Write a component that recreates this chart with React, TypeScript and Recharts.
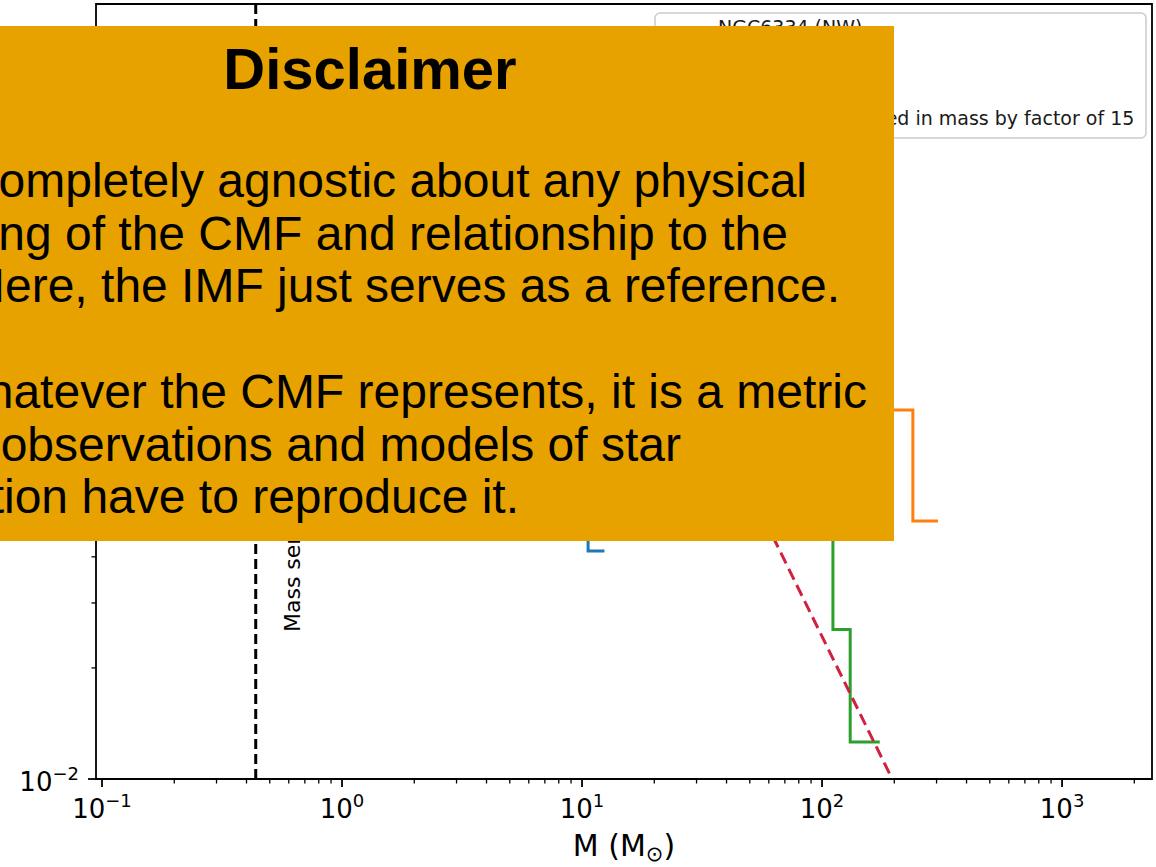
import React from "react";
import { ComposedChart, Line, XAxis, YAxis, ReferenceLine, ReferenceArea } from "recharts";

// axis limits (log-log)
const X_MIN = 0.0944;
const X_MAX = 2370;
const Y_MIN = 0.01;
const Y_MAX = 1.26;

const xMajorTicks = [0.1, 1, 10, 100, 1000];
const xMajorExp = ["−1", "0", "1", "2", "3"];
const xMinorTicks = [
  0.2, 0.3, 0.4, 0.5, 0.6, 0.7, 0.8, 0.9,
  2, 3, 4, 5, 6, 7, 8, 9,
  20, 30, 40, 50, 60, 70, 80, 90,
  200, 300, 400, 500, 600, 700, 800, 900,
  2000,
];
const yMajorTicks = [0.01, 0.1, 1];
const yMajorExp = ["−2", "−1", "0"];
const yMinorTicks = [0.02, 0.03, 0.04, 0.05, 0.06, 0.07, 0.08, 0.09, 0.2, 0.3, 0.4, 0.5, 0.6, 0.7, 0.8, 0.9];

// step CMFs (bin start mass, normalised count); upper parts sit behind the box, estimated
const ngc6334 = [
  { m: 1.25, v: 0.95 },
  { m: 1.8, v: 0.62 },
  { m: 2.6, v: 0.4 },
  { m: 3.8, v: 0.25 },
  { m: 5.5, v: 0.14 },
  { m: 7.8, v: 0.075 },
  { m: 10.6, v: 0.0415 },
  { m: 12.4, v: 0.0415 },
];
const w43mm1 = [
  { m: 14, v: 1.0 },
  { m: 22, v: 0.7 },
  { m: 35, v: 0.45 },
  { m: 55, v: 0.3 },
  { m: 85, v: 0.2 },
  { m: 140, v: 0.1 },
  { m: 239, v: 0.05 },
  { m: 304, v: 0.05 },
];
const w43mm2 = [
  { m: 9, v: 1.05 },
  { m: 15, v: 0.7 },
  { m: 24, v: 0.45 },
  { m: 38, v: 0.28 },
  { m: 58, v: 0.16 },
  { m: 85, v: 0.075 },
  { m: 111, v: 0.0254 },
  { m: 131, v: 0.0126 },
  { m: 174, v: 0.0126 },
];
const imf = [
  { m: 10, v: 0.51 },
  { m: 196, v: 0.01 },
];
const MASS_LIMIT = 0.437;

const legendLabels = ["NGC6334 (NW)", "W43-MM1", "W43-MM2", "Chabrier IMF shifted in mass by factor of 15"];
const legendColors = ["#1f77b4", "#ff7f0e", "#2ca02c", "#d0213f"];

const title = "Disclaimer";
const bodyLines = [
  "completely agnostic about any physical",
  "meaning of the CMF and relationship to the",
  "Here, the IMF just serves as a reference.",
  "",
  "Whatever the CMF represents, it is a metric",
  "that observations and models of star",
  "formation have to reproduce it.",
];
const bodyLineEnds = [807, 788, 840, 0, 867, 681, 519];

const FONT = "DejaVu Sans, sans-serif";
const SLIDE_FONT = "Liberation Sans, Arial, sans-serif";

function XTick(props: any) {
  const { x, y, payload } = props;
  const idx = xMajorTicks.indexOf(payload.value);
  const major = idx >= 0;
  return (
    <g>
      <line x1={x} x2={x} y1={y} y2={y + (major ? 8 : 4.5)} stroke="#000" strokeWidth={major ? 1.8 : 1.3} />
      {major && (
        <text x={x} y={y + 39} textAnchor="middle" fontFamily={FONT} fontSize={26} fill="#000">
          10
          <tspan dy={-11} fontSize={18}>
            {xMajorExp[idx]}
          </tspan>
        </text>
      )}
    </g>
  );
}

function YTick(props: any) {
  const { x, y, payload } = props;
  const idx = yMajorTicks.indexOf(payload.value);
  const major = idx >= 0;
  return (
    <g>
      <line x1={x - (major ? 8 : 4.5)} x2={x} y1={y} y2={y} stroke="#000" strokeWidth={major ? 1.8 : 1.3} />
      {major && (
        <text x={x - 17} y={y + 12} textAnchor="end" fontFamily={FONT} fontSize={26} fill="#000">
          10
          <tspan dy={-11} fontSize={18}>
            {yMajorExp[idx]}
          </tspan>
        </text>
      )}
    </g>
  );
}

function XLabel(props: any) {
  const vb = props.viewBox;
  return (
    <text x={vb.x + vb.width / 2} y={vb.y + 77} textAnchor="middle" fontFamily={FONT} fontSize={30} fill="#000">
      M (M
      <tspan dy={5} fontSize={21}>
        ⊙
      </tspan>
      <tspan dy={-5}>)</tspan>
    </text>
  );
}

function MassLabel(props: any) {
  const vb = props.viewBox;
  const tx = vb.x + 44;
  const ty = vb.y + vb.height - 147;
  return (
    <text x={tx} y={ty} transform={`rotate(-90, ${tx}, ${ty})`} fontFamily={FONT} fontSize={22} fill="#000">
      Mass sensitivity
    </text>
  );
}

export default function App() {
  const lineProps = { dataKey: "v", type: "stepAfter" as const, dot: false, activeDot: false, isAnimationActive: false, strokeWidth: 3 };
  return (
    <div style={{ position: "absolute", left: 0, top: 0, width: 1156, height: 867, background: "#fff", overflow: "hidden" }}>
      <ComposedChart width={1156} height={867} margin={{ top: 4, right: 4, bottom: 0, left: 0 }}>
        <XAxis
          dataKey="m"
          type="number"
          scale="log"
          domain={[X_MIN, X_MAX]}
          allowDataOverflow
          ticks={[...xMajorTicks, ...xMinorTicks]}
          interval={0}
          tick={(p: any) => <XTick {...p} />}
          tickSize={0}
          tickMargin={0}
          tickLine={false}
          axisLine={false}
          height={88}
          label={<XLabel />}
        />
        <YAxis
          type="number"
          scale="log"
          domain={[Y_MIN, Y_MAX]}
          allowDataOverflow
          ticks={[...yMajorTicks, ...yMinorTicks]}
          interval={0}
          tick={(p: any) => <YTick {...p} />}
          tickSize={0}
          tickMargin={0}
          tickLine={false}
          axisLine={false}
          width={96}
        />
        <ReferenceLine
          x={MASS_LIMIT}
          stroke="#000"
          strokeWidth={3}
          strokeDasharray="10 5"
          label={<MassLabel />}
        />
        <Line {...lineProps} data={ngc6334} name={legendLabels[0]} stroke={legendColors[0]} />
        <Line {...lineProps} data={w43mm1} name={legendLabels[1]} stroke={legendColors[1]} />
        <Line {...lineProps} data={w43mm2} name={legendLabels[2]} stroke={legendColors[2]} />
        <Line
          {...lineProps}
          type="linear"
          data={imf}
          name={legendLabels[3]}
          stroke={legendColors[3]}
          strokeWidth={3}
          strokeDasharray="12 6"
        />
        <ReferenceArea
          x1={X_MIN}
          x2={X_MAX}
          y1={Y_MIN}
          y2={Y_MAX}
          fill="none"
          fillOpacity={0}
          stroke="#000"
          strokeWidth={1.8}
          ifOverflow="visible"
        />
      </ComposedChart>

      <svg width={1156} height={867} style={{ position: "absolute", left: 0, top: 0, pointerEvents: "none" }}>
        {/* legend */}
        <rect x={655} y={13} width={491} height={125} rx={5} fill="rgba(255,255,255,0.85)" stroke="#cccccc" strokeWidth={1.5} />
        {legendLabels.map((lab, i) => (
          <g key={lab}>
            <line
              x1={664}
              x2={702}
              y1={29 + i * 30.3}
              y2={29 + i * 30.3}
              stroke={legendColors[i]}
              strokeWidth={3}
              strokeDasharray={i === 3 ? "12 6" : undefined}
            />
            <text x={718} y={34 + i * 30.3} fontFamily={FONT} fontSize={19} fill="#1a1a1a">
              {lab}
            </text>
          </g>
        ))}

        {/* slide overlay */}
        <rect x={0} y={26} width={894} height={515} fill="#e8a200" />
        <text x={370} y={89} textAnchor="middle" fontFamily={SLIDE_FONT} fontWeight="bold" fontSize={58} fill="#000">
          {title}
        </text>
        {bodyLines.map((s, i) =>
          s ? (
            <text key={i} x={bodyLineEnds[i]} y={197 + i * 52.7} textAnchor="end" fontFamily={SLIDE_FONT} fontSize={48} fill="#000">
              {s}
            </text>
          ) : null
        )}
      </svg>
    </div>
  );
}
